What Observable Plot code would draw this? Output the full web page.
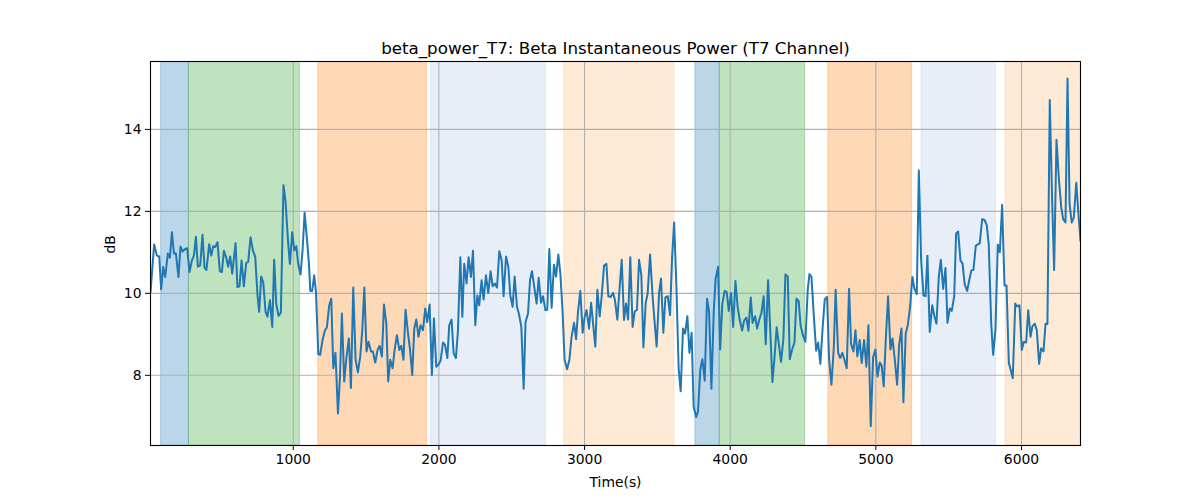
<!DOCTYPE html>
<html>
<head>
<meta charset="utf-8">
<script src="https://cdn.jsdelivr.net/npm/d3@7"></script>
<script src="https://cdn.jsdelivr.net/npm/@observablehq/plot@0.6"></script>
<style>
  html, body { margin: 0; padding: 0; background: #fff; }
  #chart { width: 1200px; height: 500px; }
</style>
</head>
<body>
<div id="chart"></div>
<script>
const titleText = "beta_power_T7: Beta Instantaneous Power (T7 Channel)";
const xLabel = "Time(s)";
const yLabel = "dB";
const xTicks = [1000, 2000, 3000, 4000, 5000, 6000];
const yTicks = [8, 10, 12, 14];

const bandStart = [93, 284, 1172, 1946, 2861, 3761, 3928, 4674, 5313, 5890];
const bandEnd   = [284, 1046, 1918, 2735, 3617, 3928, 4514, 5249, 5826, 6420];
const bandKind  = ["blue", "green", "orange", "lightblue", "lightorange", "blue", "green", "orange", "lightblue", "lightorange"];

const times = [20,45,64,80,93,107,121,139,153,167,181,194,212,226,240,253,272,288,304,318,
332,345,361,377,391,404,423,437,450,464,480,496,510,524,540,553,567,581,604,617,
631,645,661,677,691,707,723,739,755,766,780,794,810,823,840,856,869,883,899,915,
933,947,964,977,993,1007,1021,1034,1050,1064,1078,1094,1108,1117,1130,1144,
1156,1172,1185,1201,1218,1231,1247,1261,1275,1290,1307,1321,1334,1350,1366,1382,1396,1412,1428,1444,
1460,1474,1488,1503,1517,1534,1547,1563,1579,1593,1609,1623,1639,1652,1666,1682,1696,1712,1728,1742,
1757,1771,1788,1801,1817,1831,1845,1860,1874,1891,1906,1920,1936,1952,1966,1982,1996,2012,2028,2042,
2058,2071,2087,2101,2117,2131,2147,2161,2174,2190,2204,2220,2234,2250,2264,2277,2293,2307,2323,2339,
2355,2369,2385,2399,2415,2431,2444,2461,2477,2490,2506,2520,2536,2550,2566,2582,2595,2612,2626,2639,
2655,2671,2685,2701,2715,2731,2744,2758,2774,2790,2804,2820,2834,2849,2863,2880,2896,2911,2928,2942,
2955,2971,2987,3001,3014,3031,3045,3058,3074,3088,3104,3117,3134,3150,3163,3179,3196,3209,3225,3241,
3255,3271,3285,3299,3314,3330,3344,3360,3374,3390,3404,3420,3433,3450,3466,3479,3495,3512,3525,3541,
3555,3571,3587,3601,3615,3630,3646,3660,3676,3690,3706,3720,3735,3749,3766,3779,3795,3809,3825,3841,
3855,3871,3887,3900,3917,3931,3946,3962,3976,3990,4006,4020,4036,4051,4065,4082,4095,4111,4125,4141,
4154,4171,4185,4200,4214,4230,4244,4260,4276,4290,4303,4319,4336,4349,4365,4379,4395,4409,4425,4441,
4455,4470,4484,4501,4516,4532,4544,4558,4573,4590,4604,4619,4635,4649,4665,4679,4695,4711,4724,4741,
4755,4770,4784,4800,4816,4830,4846,4860,4873,4889,4903,4919,4935,4949,4965,4981,4997,5011,5027,5040,
5054,5068,5084,5100,5114,5130,5146,5160,5176,5189,5205,5219,5235,5251,5265,5281,5295,5311,5327,5341,
5354,5370,5387,5402,5416,5432,5446,5462,5478,5492,5507,5521,5538,5551,5565,5581,5595,5610,5627,5641,
5656,5670,5686,5702,5713,5730,5746,5761,5775,5792,5805,5821,5837,5851,5867,5883,5897,5913,5926,5940,
5957,5970,5986,6002,6016,6032,6046,6062,6075,6091,6105,6121,6135,6151,6165,6178,6194,6211,6224,6240,
6256,6273,6286,6302,6316,6330,6345,6359,6376,6391,6405];

const values = [10.03,11.19,10.92,10.9,10.1,10.64,10.4,10.97,10.87,11.49,10.97,10.98,10.4,11.14,11.02,11.07,11.1,10.52,10.8,10.92,
11.38,10.65,10.68,11.43,10.62,10.57,11.2,10.92,11.15,11.13,11.25,10.54,10.52,11.04,10.87,10.65,10.9,10.48,11.22,10.15,
10.17,10.8,10.17,10.74,10.77,11.37,11.05,10.89,9.93,9.55,10.41,10.27,9.55,9.43,9.83,9.18,10.82,9.75,9.45,9.53,
12.64,12.25,11.28,10.72,11.49,11.05,11.15,10.72,10.46,11.05,11.97,11.33,10.72,10.06,10.06,10.44,
10.03,8.52,8.5,8.86,9.1,9.17,9.71,9.87,8.17,8.55,7.07,7.97,9.51,7.85,8.46,8.9,7.69,10.14,8.38,8.07,
8.46,9.1,10.14,8.58,8.82,8.58,8.58,8.31,8.62,8.72,8.46,9.73,9.26,7.85,8.38,8.17,8.62,8.98,8.62,8.72,
8.38,9.6,9.02,8.66,8.01,9.14,9.36,8.94,9.22,9.1,9.63,9.3,9.73,8.01,9.39,8.21,8.25,8.36,8.8,8.74,
8.42,9.22,9.36,8.54,8.42,9.1,10.88,9.43,10.72,10.24,10.88,10.4,11.04,9.22,9.95,9.71,10.32,9.85,10.44,10.01,
10.54,10.17,10.24,10.14,11.03,10.8,9.93,10.9,10.64,9.95,9.67,10.41,9.67,9.49,9.18,7.67,9.3,9.51,10.33,10.54,
10.15,9.75,10.38,9.77,9.93,9.59,9.6,11.08,9.65,10.7,10.41,10.95,10.48,9.57,8.38,8.15,8.38,8.94,9.28,8.88,
9.55,10.06,9.04,9.43,9.59,9.14,9.77,9.28,8.7,10.09,9.44,9.91,10.68,10.72,9.93,9.91,10.01,9.83,9.36,10.15,
10.82,9.35,9.75,9.36,10.88,9.18,9.55,9.6,10.82,10.44,8.68,9.77,9.99,10.95,9.99,9.39,8.7,10.03,10.36,9.04,
9.9,9.93,9.47,10.88,11.73,10.24,8.17,7.61,9.14,9.02,9.44,8.55,9.04,7.24,6.98,7.12,8.15,8.39,7.87,9.87,
9.55,7.67,9.55,10.36,10.65,8.63,9.75,10.06,10.03,9.57,10.01,9.18,10.3,9.67,9.36,9.09,9.33,9.41,9.09,9.9,
9.28,9.44,9.14,9.36,9.52,9.93,8.76,10.32,9.02,7.83,8.38,9.17,8.7,8.33,8.88,10.46,10.41,8.39,8.63,8.8,
9.87,9.81,9.2,8.96,8.82,10.07,10.47,10.4,9.51,8.6,8.8,8.28,9.18,9.85,9.91,8.38,7.77,8.66,10.09,8.55,
8.42,8.55,8.38,8.17,10.11,8.76,8.58,9.1,8.46,8.86,8.3,8.86,8.21,9.22,6.76,8.44,8.63,7.97,8.31,8.23,
7.73,8.86,9.93,8.63,8.9,8.38,7.77,8.74,9.14,7.34,9.02,9.22,9.67,10.4,10.11,9.98,13.0,10.8,9.95,9.93,
10.92,9.06,9.71,9.44,9.26,10.4,10.82,10.11,10.62,9.28,9.63,9.57,9.93,11.46,11.51,10.8,10.73,10.22,10.06,10.32,
10.56,10.57,11.16,11.2,11.22,11.81,11.79,11.67,11.2,9.26,8.5,9.1,11.19,11.0,12.16,10.19,10.19,8.3,8.13,7.93,
9.75,9.68,9.71,8.62,8.82,8.8,9.59,8.94,9.2,9.26,9.1,8.28,8.66,8.58,9.26,9.25,14.72,12.17,10.57,13.75,
12.82,12.09,11.81,11.73,15.24,12.17,11.73,11.85,12.7,11.93,11.28];

const bandStyle = {
  blue: {fill: "#1f77b4", op: 0.3},
  green: {fill: "#2ca02c", op: 0.3},
  orange: {fill: "#ff7f0e", op: 0.3},
  lightblue: {fill: "#aec7e8", op: 0.3},
  lightorange: {fill: "#ffbb78", op: 0.3}
};

const bands = bandStart.map((s, i) => ({s, e: bandEnd[i], k: bandKind[i]}));
const n = Math.min(times.length, values.length);
const series = d3.range(n).map(i => ({t: times[i], v: values[i]}));

const chart = Plot.plot({
  width: 1200,
  height: 500,
  marginLeft: 150,
  marginRight: 120,
  marginTop: 61,
  marginBottom: 55,
  style: {fontFamily: "DejaVu Sans", fontSize: "13.9px", color: "#000", background: "#fff"},
  x: {domain: [20, 6405]},
  y: {domain: [6.287, 15.657]},
  marks: [
    Plot.rect(bands, {
      x1: "s", x2: "e",
      fill: d => bandStyle[d.k].fill,
      fillOpacity: d => bandStyle[d.k].op,
      stroke: d => bandStyle[d.k].fill,
      strokeOpacity: d => bandStyle[d.k].op,
      strokeWidth: 1,
      clip: true
    }),
    Plot.ruleX(xTicks, {stroke: "#b0b0b0", strokeWidth: 1.1}),
    Plot.ruleY(yTicks, {stroke: "#b0b0b0", strokeWidth: 1.1}),
    Plot.line(series, {x: "t", y: "v", stroke: "#1f77b4", strokeWidth: 2, clip: true}),
    Plot.frame({stroke: "#000", strokeWidth: 1.1}),
    Plot.axisX({ticks: xTicks, tickSize: 5, tickPadding: 4, label: null, fontSize: 13.9, tickFormat: d => String(d)}),
    Plot.axisY({ticks: yTicks, tickSize: 5, tickPadding: 4, label: null, fontSize: 13.9}),
    Plot.text([titleText], {frameAnchor: "top", dy: -8, fontSize: 16.7, fill: "#000", lineAnchor: "bottom", text: d => d}),
    Plot.text([xLabel], {frameAnchor: "bottom", dy: 41, fontSize: 13.9, fill: "#000", text: d => d}),
    Plot.text([yLabel], {frameAnchor: "left", dx: -40, rotate: -90, fontSize: 13.9, fill: "#000", text: d => d})
  ]
});
document.getElementById("chart").appendChild(chart);
</script>
</body>
</html>
